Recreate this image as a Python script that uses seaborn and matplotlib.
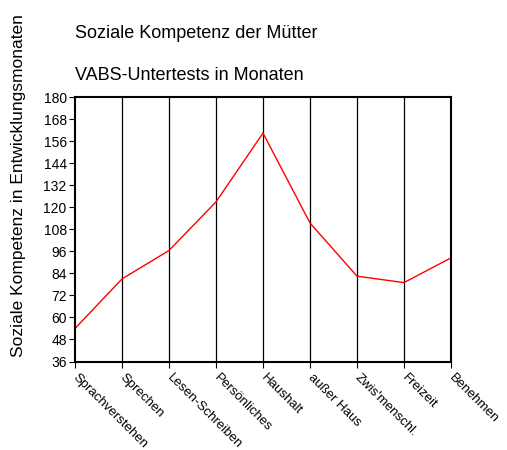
import matplotlib
matplotlib.use('Agg')
import matplotlib.pyplot as plt
import seaborn as sns
import pandas as pd

# Data
categories = ['Sprachverstehen', 'Sprechen', 'Lesen-Schreiben', 'Persönliches',
              'Haushalt', 'außer Haus', "Zwis'menschl.", 'Freizeit', 'Benehmen']
values = [54, 81, 96.5, 123, 160.5, 111.5, 82.5, 79, 92.5]
y_ticks = list(range(36, 181, 12))

df = pd.DataFrame({'pos': range(len(categories)), 'value': values})

sns.set_style('white', {'text.color': 'black', 'xtick.color': 'black',
                        'ytick.color': 'black', 'axes.labelcolor': 'black'})
plt.rcParams['font.family'] = ['Liberation Sans', 'DejaVu Sans']

W, H = 507, 450
fig = plt.figure(figsize=(W / 100, H / 100), dpi=100)
ax = fig.add_axes([75 / W, 1 - 361.5 / H, (451 - 75) / W, (361.5 - 97.3) / H])

sns.lineplot(data=df, x='pos', y='value', color='red', linewidth=1.0, ax=ax)

for i in range(1, len(categories) - 1):
    ax.axvline(i, color='black', linewidth=0.9, zorder=0)

ax.set_xlim(0, len(categories) - 1)
ax.set_ylim(36, 180)
ax.set_yticks(y_ticks)
ax.set_xticks(range(len(categories)))
ax.set_xticklabels(categories, rotation=-45, ha='left', va='center',
                   rotation_mode='anchor', fontsize=9.5)
ax.tick_params(axis='y', labelsize=10, length=4, width=0.8, direction='out', left=True, pad=2)
ax.tick_params(axis='x', length=4, width=0.8, direction='out', bottom=True, pad=6)
for s in ax.spines.values():
    s.set_color('black')
    s.set_linewidth(1.5)

ax.set_xlabel('')
ax.set_ylabel('')

fig.text(19 / W, 1 - 186 / H, 'Soziale Kompetenz in Entwicklungsmonaten', fontsize=12.5,
         rotation=90, ha='center', va='center')
fig.text(75 / W, 1 - 38 / H, 'Soziale Kompetenz der Mütter', fontsize=13, va='baseline', ha='left')
fig.text(75 / W, 1 - 80 / H, 'VABS-Untertests in Monaten', fontsize=13, va='baseline', ha='left')

fig.savefig('out.png', dpi=100)
